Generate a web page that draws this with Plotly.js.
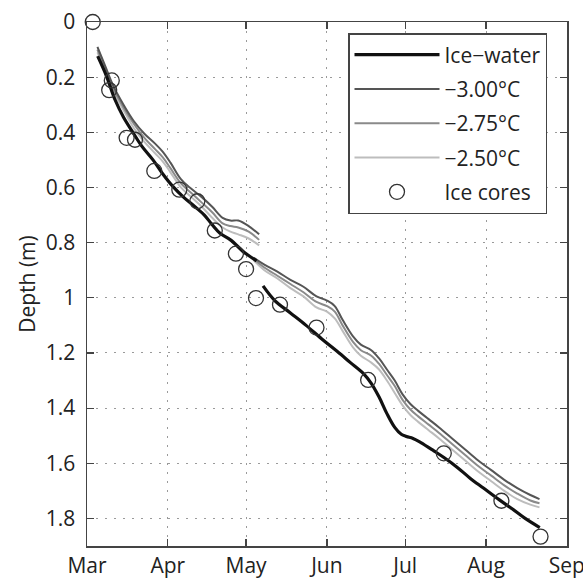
<!DOCTYPE html>
<html>
<head>
<meta charset="utf-8">
<script src="https://cdn.plot.ly/plotly-3.0.1.min.js"></script>
<style>html,body{margin:0;padding:0;background:#fff;}#chart{width:583px;height:578px;}</style>
</head>
<body>
<div id="chart"></div>
<script>
// ---- Data (x values are days since 1 March) ----
const monthLabels = ['Mar', 'Apr', 'May', 'Jun', 'Jul', 'Aug', 'Sep'];
const monthStartDays = [0, 31, 61, 92, 122, 153, 184];
const depthTicks = [0, 0.2, 0.4, 0.6, 0.8, 1.0, 1.2, 1.4, 1.6, 1.8];

const seriesNames = ['Ice\u2212water', '\u22123.00\u00B0C', '\u22122.75\u00B0C', '\u22122.50\u00B0C', 'Ice cores'];

// Ice-water interface (two segments)
const iceWaterDays1 = [4.1, 7.5, 10.7, 14, 17.6, 21, 25.3, 29, 33, 37, 41.4, 45, 48, 51, 55, 60.5, 65];
const iceWaterDepth1 = [0.124, 0.197, 0.281, 0.345, 0.40, 0.45, 0.50, 0.55, 0.597, 0.635, 0.67, 0.70, 0.735, 0.766, 0.79, 0.837, 0.866];
const iceWaterDays2 = [67.5, 72, 78, 84, 90.5, 96, 101, 106, 109, 112, 115, 118, 120.5, 122.5, 125, 128, 133, 137, 142, 147, 152, 158, 163, 168, 173.6];
const iceWaterDepth2 = [0.957, 1.01, 1.055, 1.10, 1.153, 1.195, 1.235, 1.275, 1.31, 1.36, 1.42, 1.47, 1.495, 1.503, 1.51, 1.525, 1.555, 1.58, 1.615, 1.655, 1.69, 1.732, 1.765, 1.80, 1.833];

// Isotherm model runs (two segments each)
const isoDays1 = [4.0, 7, 10, 14, 18, 22, 26, 29, 32, 36, 40, 44, 48, 52, 55, 58, 62, 66];
const iso300Depth1 = [0.09, 0.16, 0.23, 0.30, 0.36, 0.405, 0.44, 0.47, 0.51, 0.57, 0.605, 0.635, 0.67, 0.71, 0.72, 0.72, 0.74, 0.77];
const iso275Depth1 = [0.10, 0.17, 0.24, 0.31, 0.37, 0.42, 0.46, 0.49, 0.53, 0.585, 0.62, 0.655, 0.69, 0.73, 0.74, 0.745, 0.76, 0.79];
const iso250Depth1 = [0.11, 0.18, 0.25, 0.32, 0.385, 0.435, 0.475, 0.505, 0.545, 0.60, 0.635, 0.67, 0.71, 0.745, 0.76, 0.77, 0.785, 0.81];

const isoDays2 = [64, 68, 73, 78, 83, 88, 92, 95, 98, 102, 105, 109, 112, 115, 118, 121, 124, 127, 131, 135, 140, 145, 150, 155, 160, 165, 170, 173.5];
const iso300Depth2 = [0.855, 0.88, 0.905, 0.935, 0.96, 0.995, 1.01, 1.03, 1.08, 1.14, 1.17, 1.19, 1.22, 1.26, 1.30, 1.35, 1.385, 1.41, 1.44, 1.47, 1.51, 1.55, 1.59, 1.625, 1.66, 1.69, 1.715, 1.73];
const iso275Depth2 = [0.86, 0.89, 0.92, 0.95, 0.98, 1.015, 1.03, 1.05, 1.10, 1.16, 1.19, 1.21, 1.24, 1.28, 1.32, 1.37, 1.405, 1.43, 1.46, 1.49, 1.53, 1.57, 1.61, 1.645, 1.68, 1.71, 1.735, 1.745];
const iso250Depth2 = [0.865, 0.90, 0.93, 0.965, 0.995, 1.035, 1.05, 1.075, 1.12, 1.18, 1.21, 1.235, 1.26, 1.30, 1.345, 1.39, 1.425, 1.45, 1.48, 1.51, 1.55, 1.59, 1.63, 1.665, 1.70, 1.73, 1.75, 1.76];

// Ice core measurements
const coreDays = [2.2, 9.5, 8.5, 15.2, 18.4, 25.8, 35.4, 42.3, 49, 57.1, 61, 64.8, 74, 88, 107.8, 136.8, 158.9, 173.9];
const coreDepth = [0.0, 0.212, 0.247, 0.42, 0.427, 0.54, 0.608, 0.65, 0.756, 0.84, 0.896, 1.001, 1.025, 1.108, 1.298, 1.564, 1.736, 1.866];

// ---- helpers ----
const base = Date.UTC(2011, 2, 1);
function toDate(d) { return new Date(base + d * 86400000).toISOString().slice(0, 16).replace('T', ' '); }
function joinSegments(d1, v1, d2, v2) {
  return { x: d1.map(toDate).concat([null], d2.map(toDate)), y: v1.concat([null], v2) };
}

const iw = joinSegments(iceWaterDays1, iceWaterDepth1, iceWaterDays2, iceWaterDepth2);
const i300 = joinSegments(isoDays1, iso300Depth1, isoDays2, iso300Depth2);
const i275 = joinSegments(isoDays1, iso275Depth1, isoDays2, iso275Depth2);
const i250 = joinSegments(isoDays1, iso250Depth1, isoDays2, iso250Depth2);

function lineTrace(seg, name, color, width, rank) {
  return { type: 'scatter', mode: 'lines', x: seg.x, y: seg.y, name: name, connectgaps: false,
    line: { color: color, width: width, shape: 'spline', smoothing: 1 },
    legendgroup: 'g' + rank, legendrank: rank };
}

const traces = [
  lineTrace(i250, seriesNames[3], '#bdbdbd', 2, 4),
  lineTrace(i275, seriesNames[2], '#8a8a8a', 2, 3),
  lineTrace(i300, seriesNames[1], '#555555', 2, 2),
  lineTrace(iw, seriesNames[0], '#111111', 3.2, 1),
  { type: 'scatter', mode: 'markers', x: coreDays.map(toDate), y: coreDepth, name: seriesNames[4],
    marker: { symbol: 'circle-open', size: 15, color: '#333', line: { width: 1.3, color: '#333' } },
    cliponaxis: false, legendgroup: 'g5', legendrank: 5 }
];

const axisCommon = {
  ticks: 'inside', ticklen: 7, tickwidth: 1.2, tickcolor: '#444',
  showline: true, linecolor: '#444', linewidth: 1.5, mirror: 'ticks',
  showgrid: true, gridcolor: '#9a9a9a', gridwidth: 1, griddash: '2px,7px',
  zeroline: false, tickfont: { size: 21, color: '#222' }
};

const layout = {
  width: 583, height: 578,
  margin: { l: 87, r: 16, t: 22, b: 32 },
  paper_bgcolor: '#fff', plot_bgcolor: '#fff',
  font: { family: 'Open Sans, sans-serif', size: 21, color: '#222' },
  showlegend: true,
  legend: {
    x: (348 - 87) / 480, y: (546 - 33) / 524, xanchor: 'left', yanchor: 'top',
    bordercolor: '#444', borderwidth: 1.5, bgcolor: '#fff',
    traceorder: 'grouped', tracegroupgap: 4, itemwidth: 85,
    font: { size: 21, color: '#222' }
  },
  xaxis: Object.assign({}, axisCommon, {
    type: 'date', range: [toDate(0), toDate(184.05)],
    tickvals: monthStartDays.map(toDate), ticktext: monthLabels,
    ticklabelstandoff: 0, ticklabeloverflow: 'allow'
  }),
  yaxis: Object.assign({}, axisCommon, {
    range: [1.9, 0], tickvals: depthTicks,
    ticklabelstandoff: 6,
    title: { text: 'Depth (m)', font: { size: 21, color: '#222' } }
  })
};

Plotly.newPlot('chart', traces, layout, { displayModeBar: false, staticPlot: true });
</script>
</body>
</html>
